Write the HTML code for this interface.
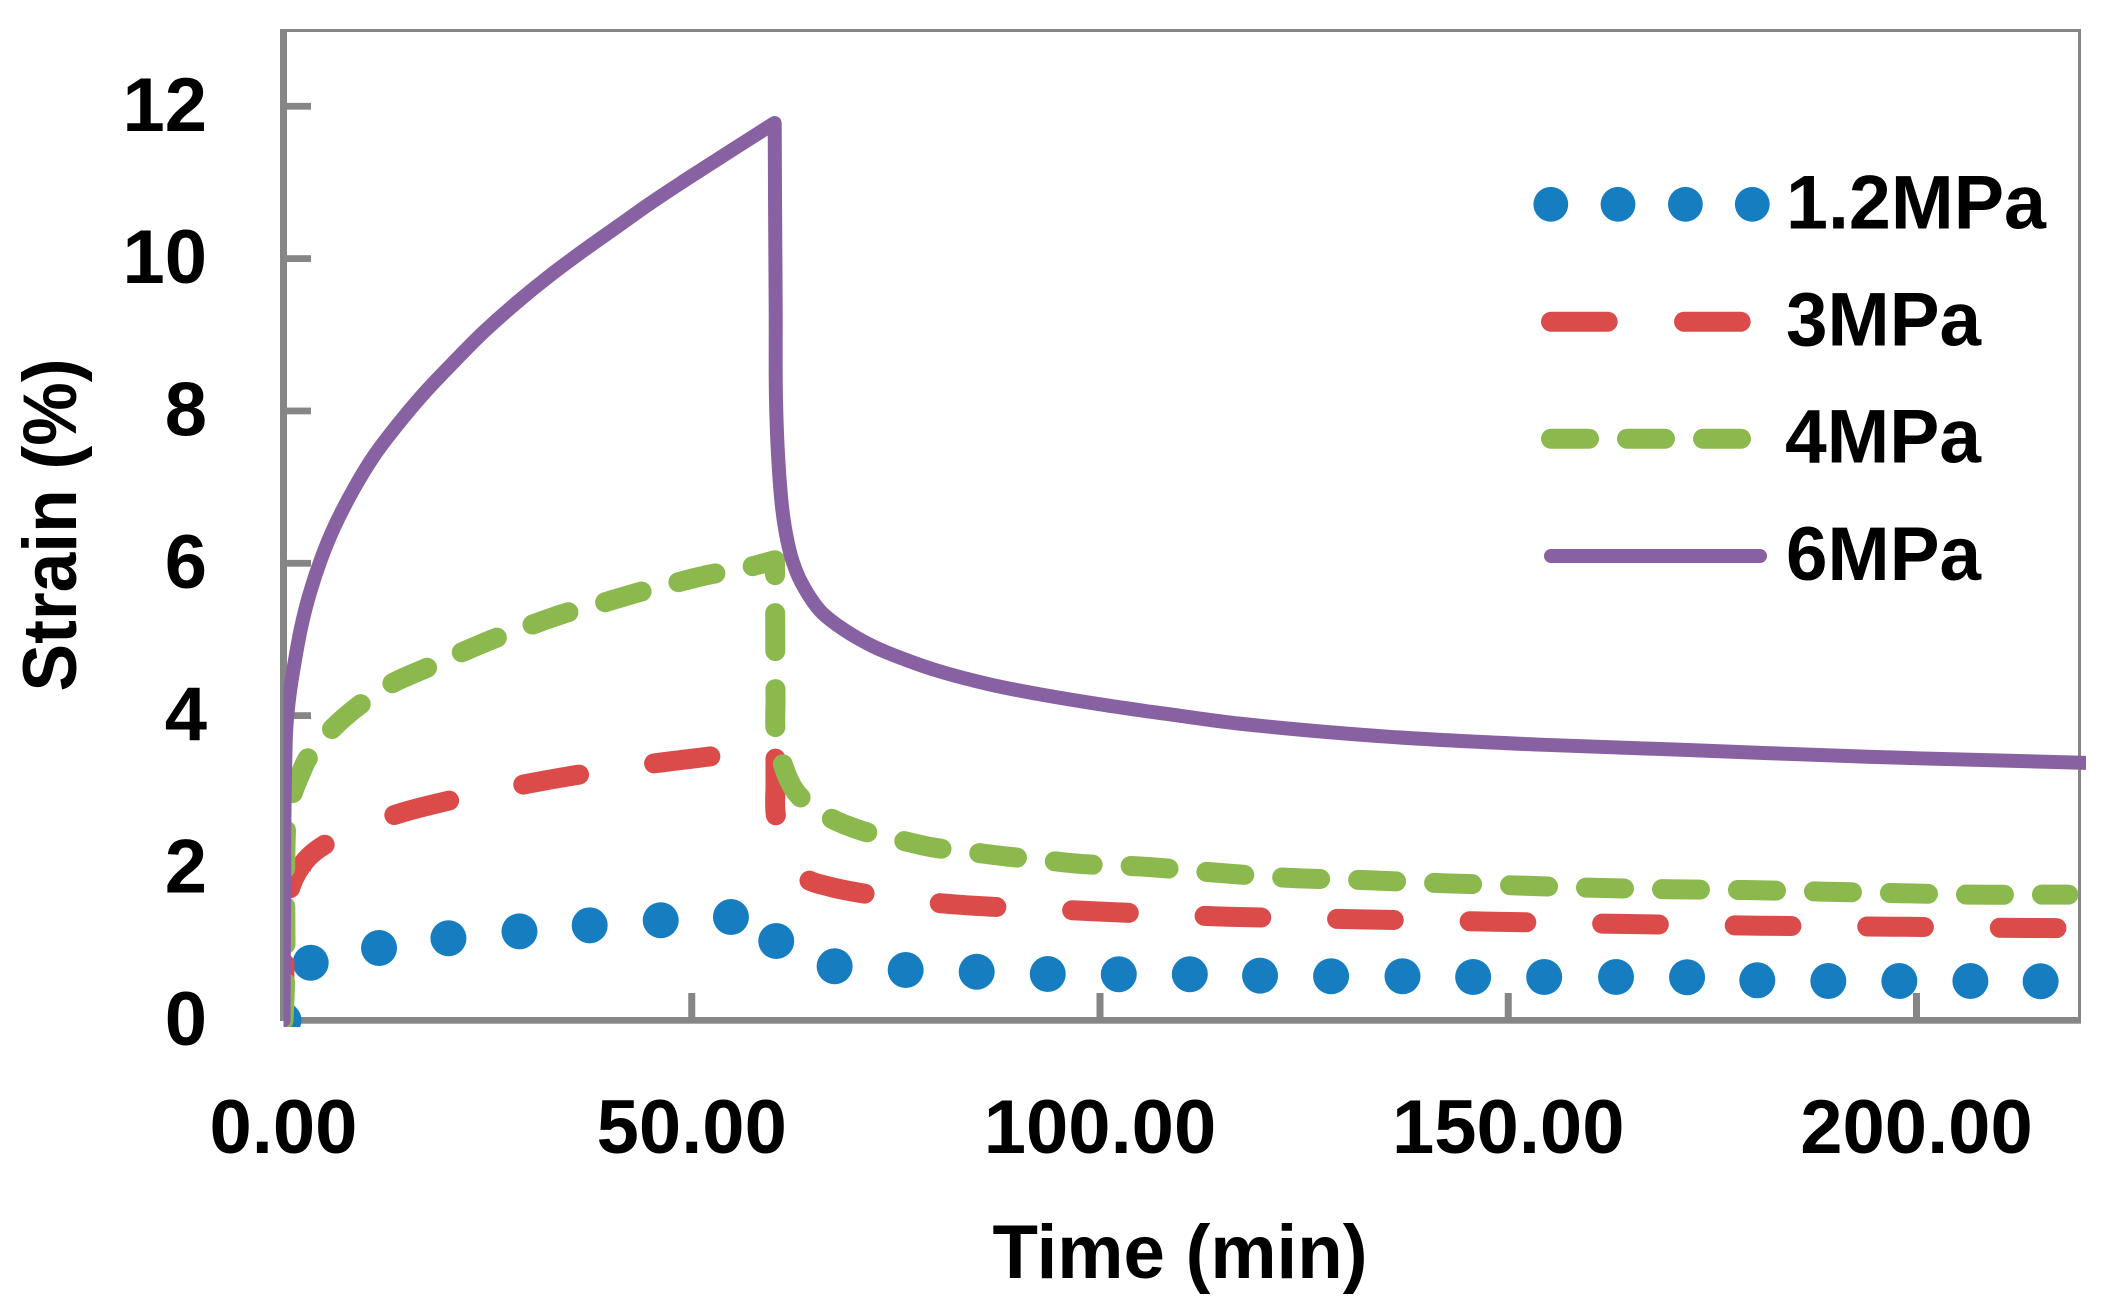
<!DOCTYPE html>
<html lang="en">
<head>
<meta charset="utf-8">
<title>Strain vs Time</title>
<style>
html,body{margin:0;padding:0;background:#fff;}
svg{display:block;}
text{font-family:"Liberation Sans",sans-serif;font-weight:700;fill:#000;}
</style>
</head>
<body>
<svg id="chart" xmlns="http://www.w3.org/2000/svg" width="2102" height="1314" viewBox="0 0 2102 1314">
  <defs>
    <clipPath id="plot-clip"><rect x="283.5" y="0" width="1802.5" height="1027"/></clipPath>
  </defs>
  <rect x="0" y="0" width="2102" height="1314" fill="#fff"/>
  <g id="axes">
    <rect x="280" y="29" width="1801" height="3" fill="#868686"/>
    <rect x="2078" y="29" width="3" height="994.5" fill="#868686"/>
    <rect x="280" y="29" width="7" height="992" fill="#868686"/>
    <rect x="287" y="1017" width="1794" height="6.7" fill="#868686"/>
  </g>
  <g id="series" clip-path="url(#plot-clip)"></g>
  <g id="tick-labels"></g>
  <text transform="translate(76 525) rotate(-90)" text-anchor="middle" font-size="76" textLength="333" lengthAdjust="spacingAndGlyphs">Strain (%)</text>
  <text x="1180" y="1278" text-anchor="middle" font-size="76" textLength="375" lengthAdjust="spacingAndGlyphs">Time (min)</text>
  <g id="legend">
    <g>
      <circle cx="1550.8" cy="204.3" r="17.4" fill="#167EC0"/>
      <circle cx="1618" cy="204.3" r="17.4" fill="#167EC0"/>
      <circle cx="1685.4" cy="204.3" r="17.4" fill="#167EC0"/>
      <circle cx="1752.3" cy="204.3" r="17.4" fill="#167EC0"/>
      <text x="1786" y="228.7" font-size="76" textLength="260" lengthAdjust="spacingAndGlyphs">1.2MPa</text>
    </g>
    <g>
      <line x1="1551" y1="321.7" x2="1741" y2="321.7" stroke="#DB4B4A" stroke-width="20" stroke-linecap="round" stroke-dasharray="56.7 76.3"/>
      <text x="1786" y="345.7" font-size="76" textLength="195" lengthAdjust="spacingAndGlyphs">3MPa</text>
    </g>
    <g>
      <line x1="1551" y1="438.7" x2="1741" y2="438.7" stroke="#8BB94D" stroke-width="20" stroke-linecap="round" stroke-dasharray="38 38"/>
      <text x="1785" y="462.7" font-size="76" textLength="196" lengthAdjust="spacingAndGlyphs">4MPa</text>
    </g>
    <g>
      <line x1="1551" y1="556" x2="1760" y2="556" stroke="#8861A3" stroke-width="14" stroke-linecap="round"/>
      <text x="1786" y="580" font-size="76" textLength="195" lengthAdjust="spacingAndGlyphs">6MPa</text>
    </g>
  </g>
</svg>
<script>
var xTicks = [0, 50, 100, 150, 200];
var xTickLabels = ["0.00", "50.00", "100.00", "150.00", "200.00"];
var yTicks = [0, 2, 4, 6, 8, 10, 12];
var yTickLabels = ["0", "2", "4", "6", "8", "10", "12"];

var time12 = [0, 3.33, 11.7, 20.2, 28.9, 37.5, 46.2, 54.8, 60.35, 67.5, 76.2, 84.9, 93.6, 102.3, 111, 119.6, 128.3, 137.05, 145.7, 154.4, 163.2, 171.9, 180.5, 189.2, 197.9, 206.6, 215.2];
var strain12 = [0, 0.756, 0.949, 1.077, 1.168, 1.247, 1.313, 1.356, 1.041, 0.709, 0.66, 0.638, 0.608, 0.604, 0.604, 0.586, 0.578, 0.578, 0.568, 0.568, 0.568, 0.565, 0.525, 0.516, 0.516, 0.516, 0.512];

var time3 = [0, 0.15, 0.3, 0.88, 2.7, 4.96, 13.45, 20.1, 29.17, 35.9, 45.17, 51.95, 60.25, 60.26, 60.28, 61.4, 63.96, 66.9, 70.5, 79.8, 86.7, 96, 102.9, 112.2, 115.7, 132, 148.3, 164.6, 181, 197.2, 213.5, 219.5];
var strain3 = [0, 0.8, 1.3, 1.754, 2.1, 2.3, 2.69, 2.88, 3.09, 3.22, 3.37, 3.46, 3.57, 3.1, 2.71, 2.24, 1.864, 1.754, 1.675, 1.544, 1.491, 1.448, 1.413, 1.373, 1.36, 1.325, 1.294, 1.264, 1.242, 1.229, 1.212, 1.21];

var time4 = [0, 0.2, 0.3, 0.45, 1.16, 2.1, 2.92, 5.9, 9.45, 13.25, 17.4, 21.6, 25.8, 30.1, 34.35, 38.8, 43.2, 47.55, 52.1, 56.6, 60.2, 60.23, 60.26, 60.28, 60.9, 62.8, 66.4, 70.5, 75, 79.5, 84.1, 88.6, 93.3, 98, 104.9, 114, 123.2, 132.5, 141.8, 151.1, 160.4, 169.7, 179, 188.3, 197.5, 206.9, 216.2, 218.6];
var strain4 = [0, 0.5, 2.47, 2.7, 2.99, 3.24, 3.43, 3.82, 4.15, 4.42, 4.62, 4.82, 5.01, 5.18, 5.34, 5.47, 5.61, 5.73, 5.85, 5.94, 6.04, 5.0, 4.2, 3.8, 3.45, 2.99, 2.69, 2.5, 2.38, 2.27, 2.21, 2.15, 2.1, 2.05, 2.02, 1.94, 1.87, 1.84, 1.8, 1.77, 1.74, 1.72, 1.71, 1.69, 1.67, 1.65, 1.65, 1.65];

var time6 = [0, 0.08, 0.1, 0.22, 0.35, 0.76, 1.41, 2.18, 3.2, 4.55, 6.19, 8.63, 11.08, 13.94, 17.2, 20.47, 24.55, 28.64, 32.72, 36.8, 40.88, 44.97, 49.05, 53.1, 57.2, 59.25, 60.16, 60.2, 60.28, 60.32, 60.6, 61.1, 61.7, 62.4, 63.46, 65.7, 68.2, 72.2, 76.3, 80.4, 86.5, 92.6, 100.8, 109, 117.1, 135.7, 153.6, 171.6, 194, 220.8];
var strain6 = [0, 1.67, 2.54, 3.42, 3.85, 4.29, 4.73, 5.17, 5.6, 6.04, 6.47, 6.98, 7.41, 7.815, 8.23, 8.6, 9.04, 9.43, 9.785, 10.11, 10.42, 10.73, 11.02, 11.3, 11.58, 11.72, 11.78, 10.77, 9.32, 8.14, 7.36, 6.7, 6.3, 6.01, 5.74, 5.38, 5.16, 4.91, 4.73, 4.58, 4.41, 4.28, 4.135, 4.01, 3.895, 3.72, 3.62, 3.55, 3.46, 3.38];

var SVGNS = "http://www.w3.org/2000/svg";
function X(t) { return 283.5 + 8.165 * t; }
function Y(v) { return 1020.3 - 76.17 * v; }

/* Smooth path through the series points; sharp bends (the load-off corner) stay sharp */
function linePath(ts, vs) {
  var n = ts.length, px = [], py = [], ux = [], uy = [], len = [], tx = [], ty = [], i;
  for (i = 0; i < n; i++) { px.push(X(ts[i])); py.push(Y(vs[i])); }
  for (i = 0; i < n - 1; i++) {
    var dx = px[i + 1] - px[i], dy = py[i + 1] - py[i], l = Math.sqrt(dx * dx + dy * dy) || 1e-6;
    len.push(l); ux.push(dx / l); uy.push(dy / l);
  }
  for (i = 0; i < n; i++) {
    if (i === 0 || i === n - 1) { tx.push(null); ty.push(null); continue; }
    var dot = ux[i - 1] * ux[i] + uy[i - 1] * uy[i];
    if (dot < 0.6) { tx.push(null); ty.push(null); continue; }
    var bx = ux[i - 1] + ux[i], by = uy[i - 1] + uy[i], bl = Math.sqrt(bx * bx + by * by) || 1e-6;
    tx.push(bx / bl); ty.push(by / bl);
  }
  var d = "M" + px[0].toFixed(2) + " " + py[0].toFixed(2);
  for (i = 0; i < n - 1; i++) {
    var h = len[i] / 3;
    var ax = tx[i] === null ? ux[i] : tx[i], ay = ty[i] === null ? uy[i] : ty[i];
    var cx = tx[i + 1] === null ? ux[i] : tx[i + 1], cy = ty[i + 1] === null ? uy[i] : ty[i + 1];
    d += "C" + (px[i] + ax * h).toFixed(2) + " " + (py[i] + ay * h).toFixed(2) + " " +
         (px[i + 1] - cx * h).toFixed(2) + " " + (py[i + 1] - cy * h).toFixed(2) + " " +
         px[i + 1].toFixed(2) + " " + py[i + 1].toFixed(2);
  }
  return d;
}

var axes = document.getElementById("axes");
var labels = document.getElementById("tick-labels");
var series = document.getElementById("series");

yTicks.forEach(function (v, i) {
  if (v !== 0) {
    var tick = document.createElementNS(SVGNS, "rect");
    
    
    tick.setAttribute("x", 287);
    tick.setAttribute("y", Y(v) - 3.4);
    tick.setAttribute("width", 24);
    tick.setAttribute("height", 6.8);
    tick.setAttribute("fill", "#868686");
    axes.appendChild(tick);
  }
  var label = document.createElementNS(SVGNS, "text");
  
  
  label.setAttribute("x", 207);
  label.setAttribute("y", Y(v) + 24.5);
  label.setAttribute("text-anchor", "end");
  label.setAttribute("font-size", 76);
  label.textContent = yTickLabels[i];
  labels.appendChild(label);
});

xTicks.forEach(function (t, i) {
  if (t !== 0) {
    var tick = document.createElementNS(SVGNS, "rect");
    
    
    tick.setAttribute("x", X(t) - 3.5);
    tick.setAttribute("y", 993);
    tick.setAttribute("width", 7);
    tick.setAttribute("height", 24);
    tick.setAttribute("fill", "#868686");
    axes.appendChild(tick);
  }
  var label = document.createElementNS(SVGNS, "text");
  
  
  label.setAttribute("x", X(t));
  label.setAttribute("y", 1153);
  label.setAttribute("text-anchor", "middle");
  label.setAttribute("font-size", 76);
  label.textContent = xTickLabels[i];
  labels.appendChild(label);
});

time12.forEach(function (t, i) {
  var dot = document.createElementNS(SVGNS, "circle");
  
  
  dot.setAttribute("cx", X(t));
  dot.setAttribute("cy", Y(strain12[i]));
  dot.setAttribute("r", 18);
  dot.setAttribute("fill", "#167EC0");
  series.appendChild(dot);
});

var line3 = document.createElementNS(SVGNS, "path");


line3.setAttribute("d", linePath(time3, strain3));
line3.setAttribute("fill", "none");
line3.setAttribute("stroke", "#DB4B4A");
line3.setAttribute("stroke-width", 20);
line3.setAttribute("stroke-linecap", "round");
line3.setAttribute("stroke-linejoin", "round");
line3.setAttribute("stroke-dasharray", "56.7 75.85");
series.appendChild(line3);

var line4 = document.createElementNS(SVGNS, "path");


line4.setAttribute("d", linePath(time4, strain4));
line4.setAttribute("fill", "none");
line4.setAttribute("stroke", "#8BB94D");
line4.setAttribute("stroke-width", 20);
line4.setAttribute("stroke-linecap", "round");
line4.setAttribute("stroke-linejoin", "round");
line4.setAttribute("stroke-dasharray", "38 38");
series.appendChild(line4);

var line6 = document.createElementNS(SVGNS, "path");


line6.setAttribute("d", linePath(time6, strain6));
line6.setAttribute("fill", "none");
line6.setAttribute("stroke", "#8861A3");
line6.setAttribute("stroke-width", 14);
line6.setAttribute("stroke-linecap", "round");
line6.setAttribute("stroke-linejoin", "round");
series.appendChild(line6);
</script>
</body>
</html>
